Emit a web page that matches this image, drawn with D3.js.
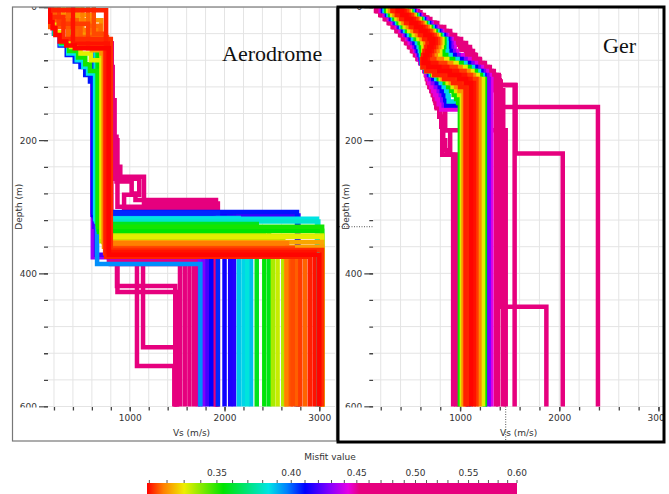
<!DOCTYPE html>
<html><head><meta charset="utf-8">
<script src="https://cdn.jsdelivr.net/npm/d3@7"></script>
<style>body{margin:0;background:#fff}svg{display:block}</style>
</head><body>
<svg id="chart" width="669" height="494"></svg>
<script>
// ---------- ticks / labels ----------
const depthMajor = [0, 200, 400, 600];
const depthMinor = [0,40,80,120,160,200,240,280,320,360,400,440,480,520,560,600];
const vsMajor = [1000, 2000, 3000];
const vsMinor = [200,400,600,800,1000,1200,1400,1600,1800,2000,2200,2400,2600,2800,3000];
const misfitMajor = [0.35, 0.40, 0.45, 0.50, 0.55, 0.60];
const misfitMinor = [0.31,0.32,0.33,0.34,0.35,0.36,0.37,0.38,0.39,0.40,0.41,0.42,0.43,0.44,0.45,0.46,0.47,0.48,0.49,0.50,0.51,0.52,0.53,0.54,0.55,0.56,0.57,0.58,0.59,0.60];
const misfitStops = [0.3087, 0.318, 0.330, 0.354, 0.384, 0.397, 0.410, 0.428, 0.443, 0.452, 0.60];
const stopColors = ["#ff0000","#ff8000","#eeee00","#00e400","#00e4e4","#0080ff","#0000ff","#8000ff","#e600e6","#e6007e","#e6007e"];

// ---------- Aerodrome profiles: [misfit, [[Vs, top depth], ...]] ----------
const aeroPink = [
 [0.58, [[400,0],[780,55],[865,376],[1480,419]]],
 [0.57, [[400,0],[790,55],[870,378],[1490,428]]],
 [0.56, [[400,0],[800,55],[1140,380],[1500,511]]],
 [0.55, [[400,0],[790,55],[840,140],[900,240],[1150,255],[1930,295]]],
 [0.54, [[400,0],[780,55],[1076,382],[1470,539]]],
 [0.53, [[400,0],[790,55],[1530,384]]],
 [0.52, [[400,0],[800,55],[870,200],[1900,300]]],
 [0.51, [[400,0],[800,55],[1580,386]]],
 [0.50, [[400,0],[810,55],[820,90],[1100,258],[940,282],[1920,305]]],
 [0.49, [[400,0],[805,55],[1630,383]]],
 [0.48, [[400,0],[795,55],[1680,385]]],
 [0.47, [[400,0],[805,55],[860,195],[1020,262],[1060,280],[1910,290]]],
 [0.465,[[400,0],[800,55],[1720,382]]]
];
const aeroViolet = [
 [0.432, [[400,0],[610,55],[1740,376]]],
 [0.428, [[400,0],[605,55],[1780,312]]]
];
const aeroBlue = [
 [0.420, [[400,0],[625,55],[645,330],[1820,372]]],
 [0.418, [[400,0],[622,55],[2780,313]]],
 [0.415, [[400,0],[618,55],[2100,314]]],
 [0.414, [[400,0],[615,55],[2060,311]]],
 [0.412, [[400,0],[620,55],[2000,310]]],
 [0.410, [[400,0],[616,55],[1860,312]]],
 [0.408, [[148,0],[165,14],[200,28],[260,40],[335,58],[420,72],[480,82],[530,90],[580,102],[612,112],[2765,308]]],
 [0.406, [[400,0],[624,55],[1930,309]]]
];
const aeroCyan = [
 [0.395, [[400,0],[655,55],[1745,386]]],
 [0.389, [[400,0],[640,55],[2280,320]]],
 [0.388, [[400,0],[645,55],[2150,317]]],
 [0.386, [[400,0],[648,55],[2200,322]]],
 [0.384, [[150,0],[168,14],[205,28],[270,40],[350,56],[440,70],[510,80],[560,90],[635,100],[2976,318]]],
 [0.383, [[400,0],[650,55],[2240,321]]],
 [0.381, [[400,0],[652,55],[2990,322]]]
];
const aeroGreen = [
 [0.358, [[400,0],[660,55],[2340,326]]],
 [0.357, [[400,0],[670,55],[2470,334]]],
 [0.355, [[400,0],[675,55],[2420,338]]],
 [0.354, [[400,0],[680,55],[3030,336]]],
 [0.352, [[152,0],[170,13],[210,27],[280,40],[360,54],[455,66],[530,76],[580,86],[665,96],[3030,330]]]
];
const aeroYellow = [
 [0.337, [[400,0],[700,55],[2510,352]]],
 [0.336, [[400,0],[705,55],[2620,347]]],
 [0.334, [[400,0],[710,55],[2560,350]]],
 [0.333, [[400,0],[712,55],[3030,343]]],
 [0.331, [[155,0],[175,12],[220,26],[290,38],[380,50],[480,60],[590,70],[705,80],[3030,345]]]
];
const aeroOrange = [
 [0.322, [[230,0],[600,12],[722,65],[3030,353]]],
 [0.321, [[450,0],[580,40],[728,60],[3030,360]]],
 [0.320, [[300,0],[700,20],[733,70],[2650,358]]],
 [0.318, [[500,0],[650,35],[738,62],[2660,355]]]
];
const aeroRed = [
 [0.3162,[[560,0],[690,28],[748,52],[2780,369]]],
 [0.316, [[350,0],[760,45],[2850,366]]],
 [0.3155,[[200,0],[440,20],[755,50],[2760,371]]],
 [0.315, [[140,0],[480,30],[790,58],[2700,374]]],
 [0.314, [[620,0],[745,40],[2720,362]]],
 [0.313, [[250,0],[560,25],[740,62],[2800,370]]],
 [0.312, [[160,0],[300,15],[800,48],[3030,365]]],
 [0.311, [[180,0],[750,5],[2900,375]]],
 [0.310, [[400,0],[770,55],[2950,368]]],
 [0.309, [[145,0],[160,12],[185,22],[215,32],[260,42],[330,52],[420,58],[780,62],[3000,372]]]
];

// ---------- Ger profiles ----------
const gerPink = [
 [0.59, [[540,0],[600,8],[670,16],[750,24],[830,32],[900,40],[970,48],[1040,56],[1100,64],[1150,72],[1200,80],[1250,88],[1300,96],[1345,104],[1435,125]]],
 [0.58, [[535,0],[595,8],[665,16],[745,24],[825,32],[895,40],[965,48],[1035,56],[1095,64],[1145,72],[1195,80],[1245,88],[1295,95],[1395,104],[1560,117],[2035,220]]],
 [0.57, [[151,0],[195,6],[240,12],[280,18],[320,24],[358,30],[395,36],[425,42],[455,48],[485,54],[515,60],[545,66],[570,72],[598,78],[618,84],[640,90],[655,96],[665,102],[675,108],[690,114],[710,120],[725,126],[740,132],[752,138],[765,144],[790,152],[810,165],[830,180],[850,200],[870,215],[930,222]]],
 [0.56, [[525,0],[575,6],[635,12],[700,18],[770,24],[840,30],[900,36],[950,42],[1010,48],[1060,54],[1100,60],[1130,66],[1160,72],[1200,78],[1250,84],[1300,90],[1340,96],[1370,102],[1385,108]]],
 [0.55, [[510,0],[565,8],[635,16],[710,24],[790,32],[860,40],[930,48],[1000,56],[1060,64],[1110,72],[1160,80],[1210,88],[1260,96],[1310,104],[1410,112],[1870,450]]],
 [0.54, [[520,0],[580,8],[650,16],[730,24],[810,32],[880,40],[950,48],[1020,56],[1080,64],[1130,72],[1180,80],[1230,88],[1280,96],[1330,104],[1400,110],[2390,150]]],
 [0.53, [[165,0],[208,6],[252,12],[292,18],[332,24],[370,30],[405,36],[437,42],[467,48],[497,54],[527,60],[555,66],[582,72],[608,78],[630,84],[648,90],[663,96],[676,102],[688,108],[702,114],[720,120],[735,126],[750,132],[765,140],[850,150],[1460,185]]],
 [0.52, [[530,0],[590,8],[660,16],[740,24],[820,32],[890,40],[960,48],[1030,56],[1090,64],[1140,72],[1190,80],[1240,88],[1290,95],[1390,102],[1550,117]]],
 [0.51, [[170,0],[212,6],[255,12],[295,18],[335,24],[372,30],[408,36],[440,42],[470,48],[500,54],[530,60],[558,66],[585,72],[610,78],[632,84],[650,90],[665,96],[678,102],[690,108],[705,114],[722,120],[738,126],[752,132],[770,140],[845,150],[900,185],[960,222]]],
 [0.50, [[515,0],[560,6],[615,12],[675,18],[740,24],[805,30],[865,36],[920,42],[975,48],[1025,54],[1070,60],[1110,66],[1145,72],[1185,78],[1230,84],[1280,90],[1320,96],[1350,102],[1360,108]]],
 [0.49, [[160,0],[203,6],[248,12],[288,18],[328,24],[365,30],[402,36],[432,42],[462,48],[492,54],[522,60],[552,66],[578,72],[604,78],[626,84],[645,90],[660,96],[672,102],[683,108],[698,114],[716,120],[732,126],[746,132],[760,140],[800,150],[820,165],[985,222]]]
];
const gerMagenta = [
 [0.444, [[200,0],[240,6],[282,12],[322,18],[362,24],[400,30],[435,36],[465,42],[492,48],[520,54],[545,60],[568,66],[585,72],[602,78],[620,84],[642,90],[660,96],[675,102],[690,108],[710,114],[730,120],[748,126],[765,132],[785,138],[810,146],[1070,154]]],
 [0.442, [[502,0],[553,6],[606,12],[660,18],[714,24],[768,30],[820,36],[870,42],[915,48],[935,54],[945,60],[970,66],[1025,72],[1095,78],[1160,84],[1220,90],[1270,96],[1300,102],[1315,108]]]
];
const gerViolet = [
 [0.430, [[212,0],[252,6],[295,12],[336,18],[376,24],[414,30],[450,36],[484,42],[515,48],[540,54],[560,60],[580,66],[596,72],[606,78],[621,84],[648,90],[675,96],[700,102],[725,108],[755,114],[785,120],[805,126],[820,132],[835,140],[1080,148]]],
 [0.428, [[492,0],[543,6],[594,12],[647,18],[700,24],[753,30],[804,36],[853,42],[898,48],[912,54],[918,60],[938,66],[985,72],[1055,78],[1125,84],[1190,90],[1240,96],[1275,102],[1290,108]]]
];
const gerBlue = [
 [0.411, [[225,0],[265,6],[308,12],[350,18],[390,24],[428,30],[465,36],[502,42],[540,48],[560,54],[575,60],[592,66],[605,72],[610,78],[622,84],[652,90],[690,96],[730,102],[765,108],[795,114],[815,120],[835,126],[850,132],[860,140],[1090,148]]],
 [0.410, [[482,0],[532,6],[582,12],[634,18],[686,24],[738,30],[788,36],[836,42],[880,48],[890,54],[890,60],[905,66],[945,72],[1015,78],[1090,84],[1160,90],[1215,96],[1245,102],[1250,108]]]
];
const gerCyan = [
 [0.386, [[238,0],[278,6],[322,12],[364,18],[405,24],[445,30],[485,36],[525,42],[565,48],[582,54],[595,60],[605,66],[614,72],[614,78],[623,84],[655,90],[705,96],[760,102],[805,108],[835,114],[860,120],[875,126],[885,134],[1100,142]]],
 [0.385, [[472,0],[521,6],[570,12],[621,18],[672,24],[723,30],[772,36],[818,42],[862,48],[865,54],[860,60],[870,66],[905,72],[975,78],[1055,84],[1130,90],[1190,96],[1230,102],[1240,108]]]
];
const gerGreen = [
 [0.354, [[460,0],[508,6],[556,12],[607,18],[657,24],[707,30],[755,36],[800,42],[842,48],[840,54],[830,60],[830,66],[860,72],[930,78],[1015,84],[1095,90],[1160,96],[1210,102],[1250,108]]],
 [0.353, [[255,0],[295,6],[338,12],[380,18],[422,24],[465,30],[508,36],[552,42],[592,48],[605,54],[612,60],[618,66],[622,72],[617,78],[624,84],[658,90],[720,96],[785,102],[845,108],[880,114],[910,120],[935,126],[960,132],[980,138],[998,144]]]
];
const gerYellow = [
 [0.332, [[275,0],[315,6],[358,12],[400,18],[442,24],[487,30],[533,36],[580,42],[620,48],[630,54],[632,60],[630,66],[628,72],[620,78],[624,84],[658,90],[730,96],[805,102],[875,108],[925,114],[960,120],[990,126],[1018,132]]],
 [0.331, [[447,0],[495,6],[542,12],[592,18],[641,24],[690,30],[737,36],[782,42],[822,48],[815,54],[800,60],[785,66],[800,72],[870,78],[965,84],[1055,90],[1125,96],[1180,102],[1232,108]]]
];
const gerOrange = [
 [0.320, [[295,0],[338,6],[383,12],[428,18],[473,24],[520,30],[565,36],[610,42],[648,48],[655,54],[650,60],[640,66],[630,72],[620,78],[624,84],[659,90],[735,96],[825,102],[905,108],[960,114],[995,120],[1035,126]]],
 [0.319, [[435,0],[482,6],[528,12],[577,18],[626,24],[674,30],[720,36],[764,42],[800,48],[790,54],[772,60],[755,66],[750,72],[815,78],[910,84],[1005,90],[1085,96],[1140,102],[1195,108]]]
];
const gerRed = [
 [0.313, [[420,0],[466,6],[512,12],[560,18],[608,24],[656,30],[702,36],[745,42],[780,48],[760,54],[740,60],[720,66],[700,72],[740,78],[850,84],[955,90],[1045,96],[1110,102],[1165,108]]],
 [0.312, [[345,0],[390,6],[435,12],[482,18],[530,24],[577,30],[622,36],[665,42],[700,48],[692,54],[672,60],[655,66],[640,72],[625,78],[630,84],[710,90],[815,96],[915,102],[995,108],[1050,114],[1080,120]]],
 [0.311, [[318,0],[362,6],[407,12],[455,18],[503,24],[550,30],[595,36],[637,42],[672,48],[676,54],[660,60],[642,66],[628,72],[618,78],[622,84],[660,90],[740,96],[840,102],[930,108],[1000,114],[1055,120]]],
 [0.310, [[395,0],[440,6],[486,12],[534,18],[582,24],[630,30],[676,36],[718,42],[755,48],[735,54],[715,60],[695,66],[675,72],[665,78],[760,84],[870,90],[970,96],[1050,102],[1105,108],[1140,114]]],
 [0.309, [[370,0],[415,6],[460,12],[508,18],[556,24],[604,30],[650,36],[692,42],[730,48],[710,54],[690,60],[670,66],[650,72],[632,78],[680,84],[790,90],[895,96],[990,102],[1060,108],[1110,114]]]
];

// cursor cross-hair left in the Ger view [Vs, depth]
const gerCursor = [1460, 330];

// ---------- drawing ----------
const svg = d3.select('#chart');
const W = 669, H = 494;
svg.append('rect').attr('width', W).attr('height', H).attr('fill', '#fff');

const y = d3.scaleLinear().domain([0, 600]).range([7, 406.5]);
const color = d3.scaleLinear().domain(misfitStops).range(stopColors)
  .interpolate(d3.interpolateRgb).clamp(true);

const FONT = "'DejaVu Sans', Verdana, sans-serif";
const defs = svg.append('defs');

function stepPoints(layers) {
  const pts = [];
  layers.forEach((l, i) => {
    const bottom = i < layers.length - 1 ? layers[i + 1][1] : 600;
    pts.push([l[0], l[1]]);
    pts.push([l[0], bottom]);
  });
  return pts;
}

function styleAxis(a) {
  a.select('.domain').remove();
  a.selectAll('line').attr('stroke', '#444').attr('stroke-width', 1.3);
  a.selectAll('text').attr('font-family', FONT).attr('font-size', 9).attr('fill', '#333');
}

function panel(id, x, profiles, cfg) {
  const [x0, x1] = x.range();
  const g = svg.append('g');
  defs.append('clipPath').attr('id', 'clip-' + id)
    .append('rect').attr('x', x0).attr('y', 7).attr('width', x1 - x0).attr('height', 401);
  defs.append('clipPath').attr('id', 'yclip-' + id)
    .append('rect').attr('x', x0 - 45).attr('y', 7).attr('width', 45).attr('height', 400.5);
  defs.append('clipPath').attr('id', 'xclip-' + id)
    .append('rect').attr('x', x0 - 5).attr('y', 407).attr('width', cfg.frameRight - x0 + 5).attr('height', 30);

  // grid
  const grid = g.append('g').attr('clip-path', `url(#clip-${id})`);
  grid.selectAll('.gv').data(vsMinor).join('line')
    .attr('x1', d => x(d)).attr('x2', d => x(d)).attr('y1', y(0)).attr('y2', y(600))
    .attr('stroke', '#e4e4e4').attr('stroke-width', 1);
  grid.selectAll('.gh').data(depthMinor).join('line')
    .attr('x1', x0).attr('x2', x1).attr('y1', d => y(d)).attr('y2', d => y(d))
    .attr('stroke', '#e4e4e4').attr('stroke-width', 1);

  // profiles, worst misfit first so the best lie on top
  const sorted = profiles.slice().sort((a, b) => b[0] - a[0]);
  const line = d3.line().x(p => x(p[0])).y(p => y(p[1]));
  g.append('g').attr('clip-path', `url(#clip-${id})`)
    .selectAll('path').data(sorted).join('path')
    .attr('d', d => line(stepPoints(d[1])))
    .attr('fill', 'none')
    .attr('stroke', d => color(d[0]))
    .attr('stroke-width', 4.5)
    .attr('stroke-linejoin', 'miter')
    .attr('stroke-linecap', 'butt');

  // y axis
  const yc = g.append('g').attr('clip-path', `url(#yclip-${id})`);
  const ya = yc.append('g').attr('transform', `translate(${x0},0)`);
  ya.call(d3.axisLeft(y).tickValues(depthMinor).tickSize(4).tickFormat(''));
  const yb = yc.append('g').attr('transform', `translate(${x0},0)`);
  yb.call(d3.axisLeft(y).tickValues(depthMajor).tickSize(9).tickPadding(2));
  styleAxis(ya); styleAxis(yb);

  // x axis
  const xc = g.append('g').attr('clip-path', `url(#xclip-${id})`);
  const xa = xc.append('g').attr('transform', `translate(0,${y(600)})`);
  xa.call(d3.axisBottom(x).tickValues(vsMinor).tickSize(4).tickFormat(''));
  const xb = xc.append('g').attr('transform', `translate(0,${y(600)})`);
  xb.call(d3.axisBottom(x).tickValues(vsMajor).tickSize(5).tickPadding(3).tickFormat(d3.format('d')));
  styleAxis(xa); styleAxis(xb);

  // axis titles
  g.append('text').attr('x', (x0 + x1) / 2).attr('y', 436).attr('text-anchor', 'middle')
    .attr('font-family', FONT).attr('font-size', 9).attr('fill', '#333').text('Vs (m/s)');
  g.append('text').attr('transform', `translate(${cfg.yTitleX},${(y(0) + y(600)) / 2}) rotate(-90)`)
    .attr('text-anchor', 'middle').attr('dominant-baseline', 'middle')
    .attr('font-family', FONT).attr('font-size', 9).attr('fill', '#333').text('Depth (m)');

  // site name
  g.append('text').attr('x', cfg.nameX).attr('y', cfg.nameY)
    .attr('font-family', "'Liberation Serif', 'Times New Roman', serif")
    .attr('font-size', 22).attr('fill', '#111').text(cfg.name);
  return g;
}

const xAero = d3.scaleLinear().domain([137, 3166]).range([48, 335]);
const xGer = d3.scaleLinear().domain([125, 3056]).range([373.3, 664]);

const aeroProfiles = [].concat(aeroPink, aeroViolet, aeroBlue, aeroCyan, aeroGreen, aeroYellow, aeroOrange, aeroRed);
const gerProfiles = [].concat(gerPink, gerMagenta, gerViolet, gerBlue, gerCyan, gerGreen, gerYellow, gerOrange, gerRed);

panel('aero', xAero, aeroProfiles, {name: 'Aerodrome', nameX: 222, nameY: 61, yTitleX: 19, frameRight: 335});
const gGer = panel('ger', xGer, gerProfiles, {name: 'Ger', nameX: 603, nameY: 53, yTitleX: 346, frameRight: 664});

// cursor dotted lines in Ger view
gGer.append('line').attr('x1', xGer(gerCursor[0])).attr('x2', xGer(gerCursor[0]))
  .attr('y1', y(600)).attr('y2', 441).attr('stroke', '#555').attr('stroke-dasharray', '1,1.5');
gGer.append('line').attr('x1', 339).attr('x2', 373).attr('y1', y(gerCursor[1])).attr('y2', y(gerCursor[1]))
  .attr('stroke', '#555').attr('stroke-dasharray', '1,1.5');

// panel frames
svg.append('rect').attr('x', 12.5).attr('y', 7).attr('width', 324).attr('height', 434)
  .attr('fill', 'none').attr('stroke', '#777').attr('stroke-width', 1.2);
svg.append('rect').attr('x', 338).attr('y', 7).attr('width', 326).attr('height', 435)
  .attr('fill', 'none').attr('stroke', '#000').attr('stroke-width', 3);

// ---------- colour scale ----------
const cx = d3.scaleLog().domain([0.3087, 0.60]).range([147, 517]);
const grad = defs.append('linearGradient').attr('id', 'misfitGrad')
  .attr('x1', 0).attr('x2', 1).attr('y1', 0).attr('y2', 0);
misfitStops.forEach((v, i) => {
  grad.append('stop').attr('offset', (cx(v) - 147) / 370).attr('stop-color', stopColors[i]);
});
svg.append('rect').attr('x', 147).attr('y', 483).attr('width', 370).attr('height', 12)
  .attr('fill', 'url(#misfitGrad)');
svg.append('g').selectAll('line').data(misfitMinor).join('line')
  .attr('x1', d => cx(d)).attr('x2', d => cx(d)).attr('y1', 480).attr('y2', 483)
  .attr('stroke', '#555').attr('stroke-width', 1);
svg.append('g').selectAll('text').data(misfitMajor).join('text')
  .attr('x', d => cx(d)).attr('y', 475.5).attr('text-anchor', 'middle')
  .attr('font-family', FONT).attr('font-size', 9).attr('fill', '#333')
  .text(d => d3.format('.2f')(d));
svg.append('text').attr('x', 330).attr('y', 460).attr('text-anchor', 'middle')
  .attr('font-family', FONT).attr('font-size', 9).attr('fill', '#333').text('Misfit value');
</script>
</body></html>
